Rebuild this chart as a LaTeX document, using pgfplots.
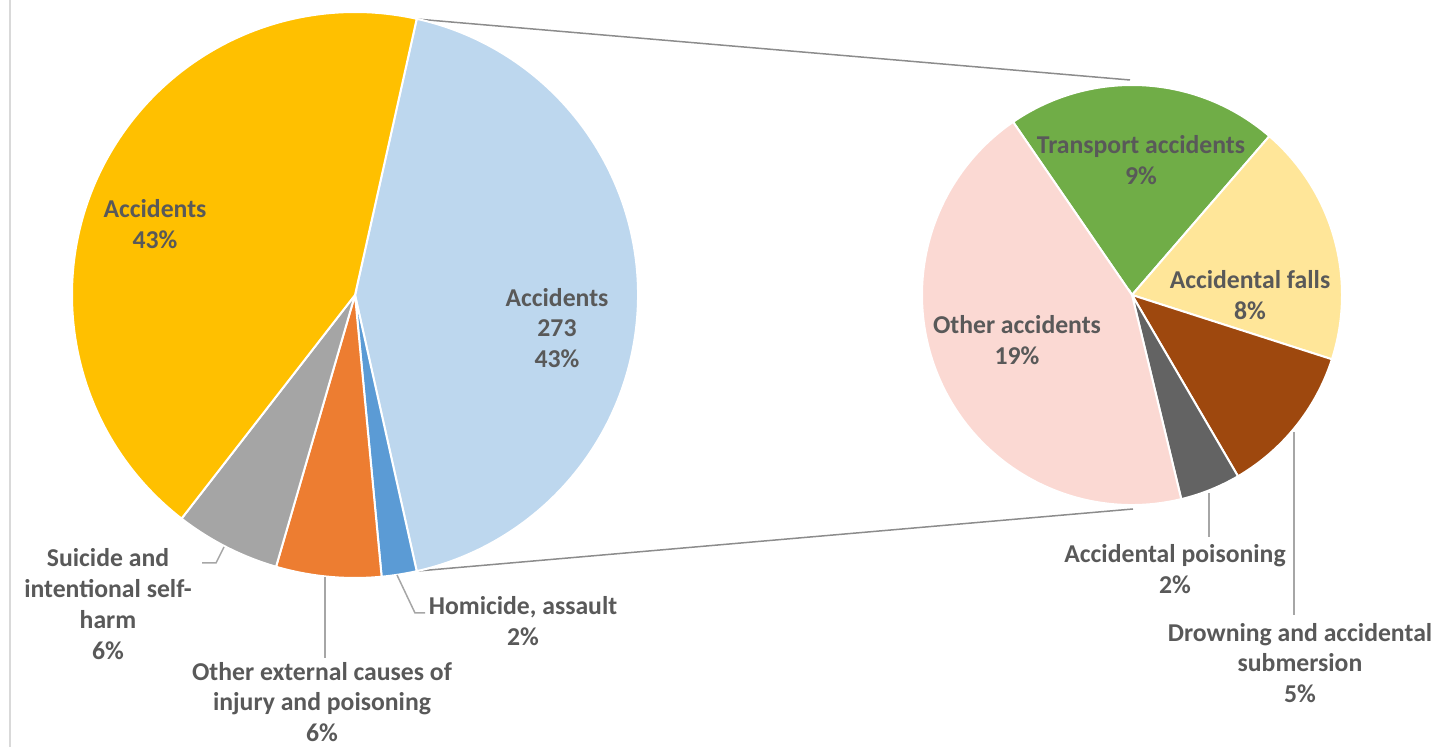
\documentclass[border=0pt]{standalone}
\usepackage{pgfplots}
\pgfplotsset{compat=1.18}
\usepackage{fontspec}
\setmainfont{Carlito}
\definecolor{cBlueL}{HTML}{BDD7EE}
\definecolor{cBlue}{HTML}{5B9BD5}
\definecolor{cOrange}{HTML}{ED7D31}
\definecolor{cGray}{HTML}{A5A5A5}
\definecolor{cYellow}{HTML}{FFC000}
\definecolor{cGreen}{HTML}{70AD47}
\definecolor{cYellowL}{HTML}{FFE699}
\definecolor{cBrown}{HTML}{9E480E}
\definecolor{cDGray}{HTML}{636363}
\definecolor{cPink}{HTML}{FBD9D3}
\definecolor{tcol}{HTML}{595959}
\definecolor{lcol}{HTML}{A6A6A6}
\begin{document}
\begin{tikzpicture}
\begin{axis}[width=1435bp,height=747bp,scale only axis,hide axis,
  xmin=0,xmax=1435,ymin=0,ymax=747,clip=false]
\path (axis cs:0,0) rectangle (axis cs:1435,747);
\draw[color=black!15,line width=1.5bp] (axis cs:10,0) -- (axis cs:10,747);
% connector lines
\draw[color=black!45,line width=1.5bp] (axis cs:416,728) -- (axis cs:1130,667);
\draw[color=black!45,line width=1.5bp] (axis cs:418,176) -- (axis cs:1133,238);
% left pie (percent of total)
\foreach \v/\col [remember=\ea as \sa (initially 77.4)] in {43/cBlueL,2/cBlue,6/cOrange,6/cGray,43/cYellow} {
  \pgfmathsetmacro{\ea}{\sa-3.6*\v}
  \edef\temp{\noexpand\fill[\col,draw=white,line width=2bp] (axis cs:355,452) -- ++(\sa:283bp) arc[start angle=\sa,end angle=\ea,radius=283bp] -- cycle;}
  \temp
}
% right pie (percent of total, 43% split)
\foreach \v/\col [remember=\ea as \sa (initially 124.5)] in {9/cGreen,8/cYellowL,5/cBrown,2/cDGray,19/cPink} {
  \pgfmathsetmacro{\ea}{\sa-360*\v/43}
  \edef\temp{\noexpand\fill[\col,draw=white,line width=2bp] (axis cs:1132,452) -- ++(\sa:210bp) arc[start angle=\sa,end angle=\ea,radius=210bp] -- cycle;}
  \temp
}
% leader lines
\draw[lcol,line width=1.5bp] (axis cs:224,200) -- (axis cs:216,184) -- (axis cs:202,184);
\draw[lcol,line width=1.5bp] (axis cs:325,170) -- (axis cs:325,89);
\draw[lcol,line width=1.5bp] (axis cs:397,172) -- (axis cs:415,134) -- (axis cs:425,134);
\draw[lcol,line width=1.5bp] (axis cs:1209,254) -- (axis cs:1209,210);
\draw[lcol,line width=1.5bp] (axis cs:1294,315) -- (axis cs:1294,132);
% labels
\tikzset{lab/.style={align=center,text=tcol,inner sep=0pt,font=\bfseries\fontsize{25.8}{31}\selectfont}}
\node[lab] at (axis cs:155,523) {Accidents\\43\%};
\node[lab] at (axis cs:557,419) {Accidents\\273\\43\%};
\node[lab] at (axis cs:108,143) {Suicide and\\intentional self-\\harm\\6\%};
\node[lab] at (axis cs:322,45) {Other external causes of\\injury and poisoning\\6\%};
\node[lab] at (axis cs:523,126) {Homicide, assault\\2\%};
\node[lab] at (axis cs:1141,587) {Transport accidents\\9\%};
\node[lab] at (axis cs:1250,452) {Accidental falls\\8\%};
\node[lab] at (axis cs:1017,407) {Other accidents\\19\%};
\node[lab] at (axis cs:1175,178) {Accidental poisoning\\2\%};
\node[lab] at (axis cs:1300,84) {Drowning and accidental\\submersion\\5\%};
\end{axis}
\pgfresetboundingbox
\path (current axis.south west) rectangle (current axis.north east);
\end{tikzpicture}
\end{document}
